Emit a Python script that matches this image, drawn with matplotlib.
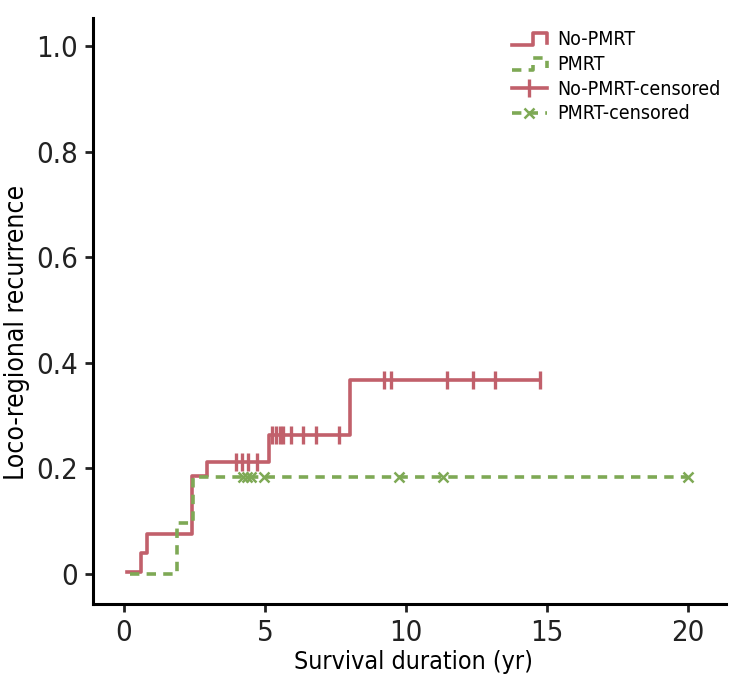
import matplotlib.pyplot as plt
from matplotlib.lines import Line2D
from matplotlib.legend_handler import HandlerBase
from matplotlib import font_manager

# buscar una fuente estrecha instalada
fam = None
for f in font_manager.fontManager.ttflist:
    if 'Narrow' in f.name or 'Condensed' in f.name or f.stretch in ('condensed', 'semi-condensed'):
        fam = f.name
        stretch = f.stretch
        break
if fam is None:
    fam = 'Liberation Sans'
    stretch = 'normal'
plt.rcParams['font.family'] = [fam, 'DejaVu Sans']
plt.rcParams['font.stretch'] = stretch

red = '#c1606b'
green = '#7ea955'

# curvas escalonadas (tiempo en anos, recurrencia acumulada)
t_no = [0.1, 0.59, 0.83, 2.40, 2.93, 5.14, 8.01, 14.75]
y_no = [0.004, 0.039, 0.075, 0.186, 0.213, 0.263, 0.367, 0.367]
t_p = [0.2, 1.89, 2.46, 20.0]
y_p = [0.0, 0.097, 0.184, 0.184]

# censurados
c_no_t = [3.97, 4.18, 4.41, 4.73, 5.26, 5.39, 5.52, 5.65, 5.91, 6.34, 6.81, 7.63,
          9.22, 9.47, 11.47, 12.37, 13.17, 14.75]
c_no_y = [0.213] * 4 + [0.263] * 8 + [0.367] * 6
c_p_t = [4.21, 4.35, 4.51, 4.98, 9.76, 11.32, 20.0]
c_p_y = [0.184] * 7

fig = plt.figure(figsize=(7.46, 6.76), dpi=100)
ax = fig.add_axes([0.1247, 0.1065, 0.8483, 0.8665])

ax.step(t_no, y_no, where='post', color=red, lw=2.6)
ax.step(t_p, y_p, where='post', color=green, lw=2.6, ls=(0, (2.6, 2.0)))
ax.plot(c_no_t, c_no_y, ls='none', marker='|', ms=13, mew=2.4, color=red)
ax.plot(c_p_t, c_p_y, ls='none', marker='x', ms=6.5, mew=1.8, color=green)


class StepHandler(HandlerBase):
    def __init__(self, color, ls):
        super().__init__()
        self.color = color
        self.ls = ls

    def create_artists(self, legend, orig_handle, xd, yd, width, height, fontsize, trans):
        xs = [0, width * 0.6, width * 0.6, width, width]
        ys = [height * 0.0, height * 0.0, height * 0.85, height * 0.85, height * 0.15]
        ln = Line2D(xs, ys, color=self.color, lw=2.6, ls=self.ls)
        ln.set_transform(trans)
        return [ln]


h1 = Line2D([], [], color=red)
h2 = Line2D([], [], color=green)
h3 = Line2D([], [], color=red, lw=2.6, marker='|', ms=13, mew=2.4)
h4 = Line2D([], [], color=green, lw=2.6, ls=(0, (2.6, 2.0)), marker='x', ms=6.5, mew=1.8)
ax.legend([h1, h2, h3, h4], ['No-PMRT', 'PMRT', 'No-PMRT-censored', 'PMRT-censored'],
          handler_map={h1: StepHandler(red, '-'), h2: StepHandler(green, (0, (2.6, 2.0)))},
          loc='upper right', bbox_to_anchor=(1.02, 1.01), frameon=False, fontsize=14,
          handlelength=1.8, labelspacing=0.3, handletextpad=0.55)

ax.set_xlim(-1.1, 21.35)
ax.set_ylim(-0.057, 1.053)
ax.set_xticks([0, 5, 10, 15, 20])
ax.set_yticks([0, 0.2, 0.4, 0.6, 0.8, 1.0])
ax.set_yticklabels(['0', '0.2', '0.4', '0.6', '0.8', '1.0'])
ax.spines['top'].set_visible(False)
ax.spines['right'].set_visible(False)
ax.spines['left'].set_linewidth(2.2)
ax.spines['bottom'].set_linewidth(2.2)
ax.tick_params(labelsize=21, width=2, length=6, colors='#222222', pad=5)
ax.set_xlabel('Survival duration (yr)', fontsize=18)
ax.set_ylabel('Loco-regional recurrence', fontsize=19)
ax.xaxis.set_label_coords(0.507, -0.078)
ax.yaxis.set_label_coords(-0.1, 0.464)

fig.savefig('out.png', dpi=100)
